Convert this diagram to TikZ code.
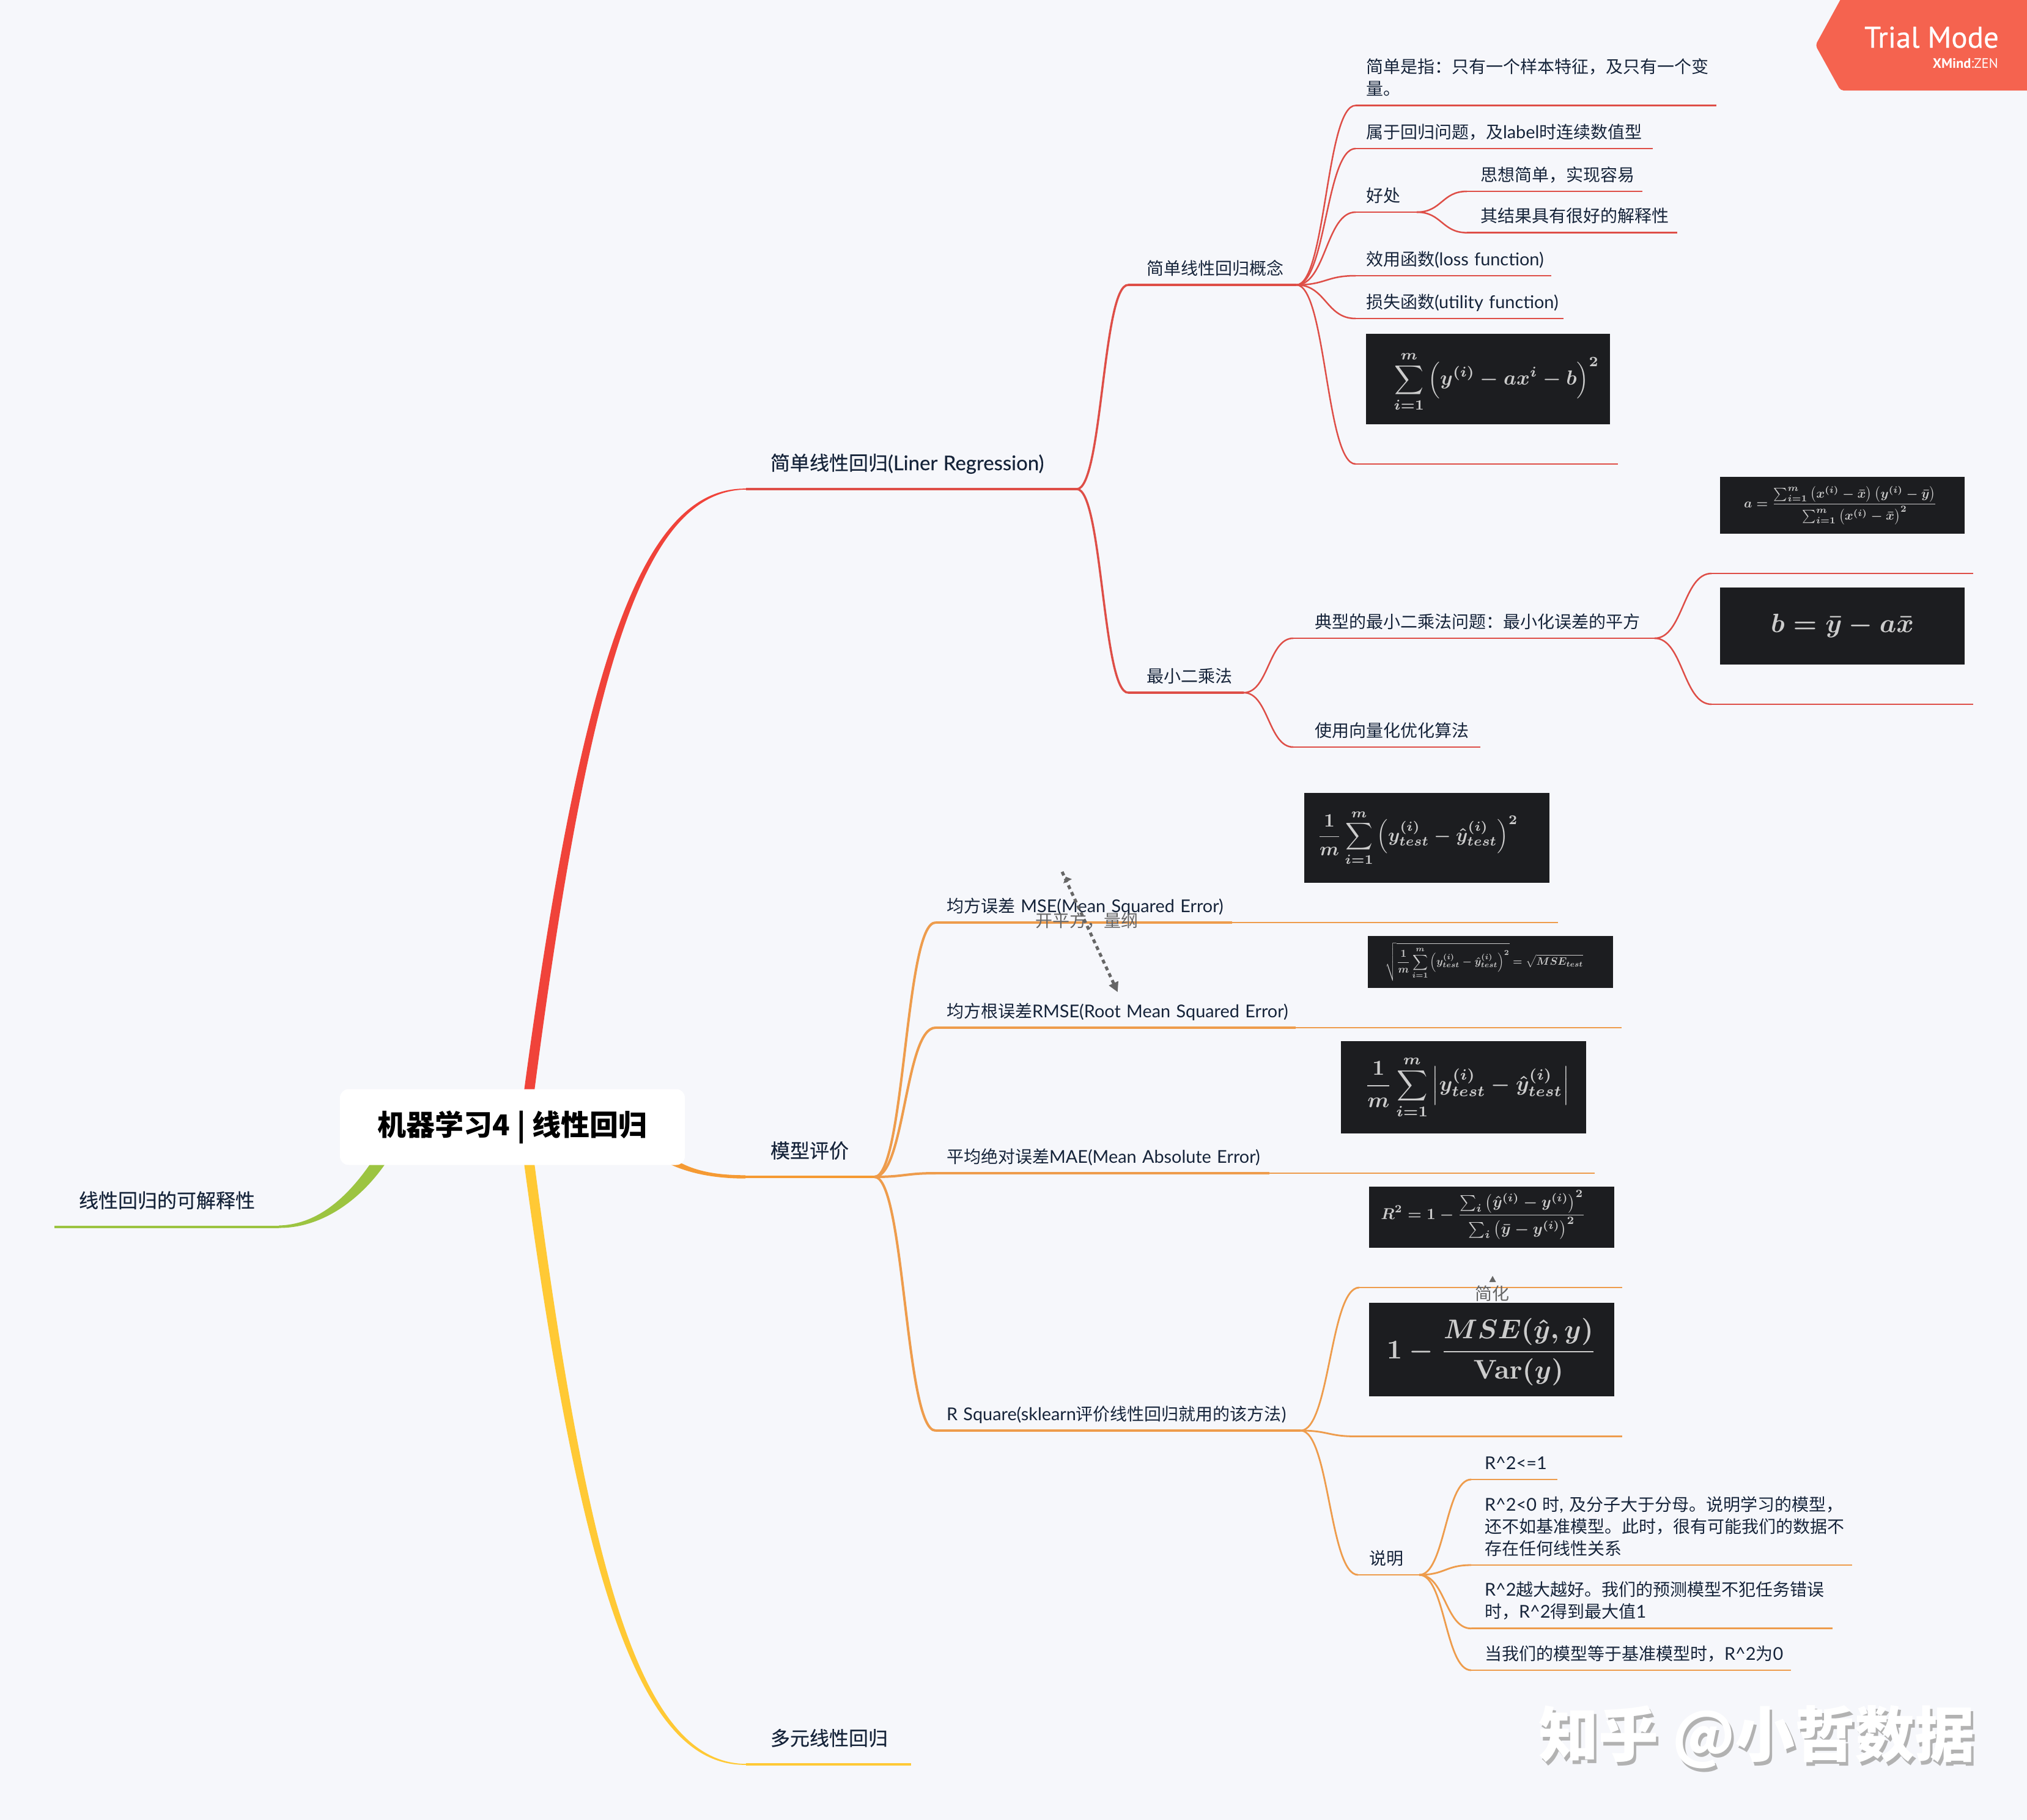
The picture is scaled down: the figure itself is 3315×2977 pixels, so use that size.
\documentclass[tikz,border=0pt]{standalone}
\usepackage[no-math]{fontspec}
\usepackage{amsmath}
\usepackage{graphicx}
\usetikzlibrary{calc,arrows.meta}
\setmainfont{Noto Sans CJK SC}
\newfontfamily\latfont[Scale=1.03]{Lato}
\newfontfamily\medfont[FakeBold=0.35]{Noto Sans CJK SC}
\newfontfamily\medlat[FakeBold=0.35,Scale=1.03]{Lato}
\newfontfamily\badgefont[FakeBold=0.5]{PT Sans}
\newfontfamily\badgebold{PT Sans}
\newcommand{\la}[1]{{\latfont #1}}
\newcommand{\bigsz}{\fontsize{32}{40}\selectfont}
\definecolor{paper}{HTML}{F6F7FB}
\definecolor{ink}{HTML}{16243A}
\definecolor{cRed}{HTML}{F0433A}
\definecolor{cRedL}{HTML}{DE4E47}
\definecolor{cOrg}{HTML}{F59A33}
\definecolor{cOrgL}{HTML}{EE9C4C}
\definecolor{cYel}{HTML}{FFC935}
\definecolor{cGrn}{HTML}{9CC441}
\definecolor{cGray}{HTML}{666666}
\definecolor{cDark}{HTML}{1C1D20}
\definecolor{cMath}{HTML}{CCCCCC}
\definecolor{cBadge}{HTML}{F5634F}
\pgfdeclarelayer{front}
\pgfsetlayers{main,front}
\tikzset{
  topicnode/.style={inner sep=0pt,outer sep=0pt,align=left,text=ink,font=\fontsize{28}{36}\selectfont},
  lnRed/.style={cRedL,line width=4pt},
  lnRedM/.style={cRedL,line width=3.5pt},
  lnRedS/.style={cRedL,line width=2.5pt},
  lnOrg/.style={cOrg,line width=4.5pt},
  lnOrgM/.style={cOrgL,line width=4pt},
  lnOrgS/.style={cOrgL,line width=2.8pt},
  lnYel/.style={cYel,line width=4pt},
  lnGrn/.style={cGrn,line width=4pt},
  formula/.style={fill=cDark,inner sep=0pt,outer sep=0pt,anchor=north west},
  mathtext/.style={inner sep=0pt,outer sep=0pt,text=cMath},
  notelabel/.style={text=cGray,inner sep=0pt,font=\fontsize{28}{34}\selectfont},
  relline/.style={cGray,line width=5pt,dash pattern=on 6.5pt off 5.7pt},
}
\newcommand{\tdepth}{17}
\newcommand{\topic}[7]{%
  \node[topicnode,text width={#4pt-#3pt},anchor=south west] (#1) at (#3,#5)
    {\leftskip=#6pt\relax #7\rule[-\tdepth pt]{0pt}{1pt}\par};
  \draw[#2] (#1.south west) -- (#1.south east);}
\newcommand{\conn}[3]{%
  \draw[#1] let \p1=(#2.south east), \p2=(#3.south west), \n1={0.5*(\x2-\x1)} in
    (\p1) .. controls (\x1+\n1,\y1) and (\x2-\n1,\y2) .. (\p2);}
% name, x0,y0,x1,y1, scale, dx, dy, math
\newcommand{\formbox}[9]{%
  \node[formula,minimum width={#4pt-#2pt},minimum height={#5pt-#3pt}] (#1) at (#2,#3) {};
  \node[mathtext] (#1-m) at ($(#1.center)+(#7,#8)$)
    {\scalebox{#6}{\color{cMath}\boldmath$\displaystyle #9$}};}
\begin{document}
\begin{tikzpicture}[x=1pt,y=-1pt]
\useasboundingbox (0,0) rectangle (3315,2977);
\fill[paper] (0,0) rectangle (3315,2977);
% central topic
\begin{pgfonlayer}{front}
\node[fill=white,rounded corners=14pt,minimum width=564pt,minimum height=124pt,inner sep=0pt,
  text=black,font=\fontsize{47}{56}\selectfont\bfseries] (center) at (838,1843.5) {机器学习4 | 线性回归};
\end{pgfonlayer}
% main branches
\renewcommand{\tdepth}{31}
\topic{rb}{lnRed}{1220}{1761}{800}{40}{\bigsz\medfont 简单线性回归{\medlat (Liner Regression)}}
\topic{ob}{lnOrg}{1219}{1430}{1925}{41}{\bigsz\medfont 模型评价}
\topic{yb}{lnYel}{1220}{1490}{2886}{40}{\bigsz\medfont 多元线性回归}
\topic{gb}{lnGrn}{89}{456}{2006.5}{40}{\bigsz\medfont 线性回归的可解释性}
\renewcommand{\tdepth}{17}
\fill[cRed] (853.5,1811) .. controls (950,1081) and (1049.5,797) .. ($(rb.south west)+(0,-0.8)$)
  -- ($(rb.south west)+(0,0.8)$) .. controls (1054.5,803) and (964,1081) .. (870.5,1811) -- cycle;
\fill[cYel] (853.5,1876) .. controls (950,2606) and (1049.5,2889) .. ($(yb.south west)+(0,0.8)$)
  -- ($(yb.south west)+(0,-0.8)$) .. controls (1054.5,2883) and (964,2606) .. (870.5,1876) -- cycle;
\fill[cGrn] (621,1880) .. controls (581,1945) and (528,2003) .. ($(gb.south east)+(0,-2)$)
  -- ($(gb.south east)+(0,2)$) .. controls (532,2009) and (599,1955) .. (639,1890) -- cycle;
\fill[cOrg] (1115,1903) .. controls (1145,1918) and (1180,1922.3) .. ($(ob.south west)+(0,-2.7)$)
  -- ($(ob.south west)+(0,2.7)$) .. controls (1170,1927.7) and (1130,1920) .. (1097,1905) -- cycle;
% red part
\topic{r1}{lnRedM}{1845}{2120}{466}{30}{简单线性回归概念}
\topic{r2}{lnRedM}{1845}{2034}{1133}{30}{最小二乘法}
\conn{lnRedM}{rb}{r1}
\conn{lnRedM}{rb}{r2}
\topic{a1}{lnRedS}{2217}{2807}{172.5}{17}{简单是指：只有一个样本特征，及只有一个变\\量。}
\topic{a2}{lnRedS}{2217}{2703}{243}{17}{属于回归问题，及\la{label}时连续数值型}
\topic{a3}{lnRedS}{2217}{2317}{347}{17}{好处}
\topic{a4}{lnRedS}{2217}{2537}{451}{17}{效用函数\la{(loss function)}}
\topic{a5}{lnRedS}{2217}{2557}{521}{17}{损失函数\la{(utility function)}}
\topic{a6}{lnRedS}{2217}{2646}{759}{17}{\phantom{x}}
\foreach \c in {a1,a2,a3,a4,a5,a6} {\conn{lnRedS}{r1}{\c}}
\topic{b1}{lnRedS}{2399}{2686}{313}{22}{思想简单，实现容易}
\topic{b2}{lnRedS}{2399}{2743}{380.6}{22}{其结果具有很好的解释性}
\conn{lnRedS}{a3}{b1}
\conn{lnRedS}{a3}{b2}
\formbox{f1}{2234}{546}{2633}{694}{3.33}{14}{4}{\sum_{i=1}^{m}\left(y^{(i)}-ax^{i}-b\right)^{2}}
\topic{c1}{lnRedS}{2115}{2706}{1044}{35}{典型的最小二乘法问题：最小化误差的平方}
\topic{c2}{lnRedS}{2115}{2421}{1222}{35}{使用向量化优化算法}
\conn{lnRedS}{r2}{c1}
\conn{lnRedS}{r2}{c2}
\topic{d1}{lnRedS}{2799}{3227}{938}{14}{\phantom{x}}
\topic{d2}{lnRedS}{2799}{3227}{1152}{14}{\phantom{x}}
\conn{lnRedS}{c1}{d1}
\conn{lnRedS}{c1}{d2}
\formbox{fa}{2813}{780}{3213}{873}{2.14}{-3}{0}{a=\frac{\sum_{i=1}^{m}\left(x^{(i)}-\bar{x}\right)\left(y^{(i)}-\bar{y}\right)}{\sum_{i=1}^{m}\left(x^{(i)}-\bar{x}\right)^{2}}}
\formbox{fb}{2813}{961}{3213}{1087}{4.35}{0}{0}{b=\bar{y}-a\bar{x}}
% orange part
\topic{m1}{lnOrgM}{1530}{2015}{1509}{18}{均方误差 \la{MSE(Mean Squared Error)}}
\topic{m2}{lnOrgM}{1530}{2119}{1681}{18}{均方根误差\la{RMSE(Root Mean Squared Error)}}
\topic{m3}{lnOrgM}{1530}{2076}{1919}{18}{平均绝对误差\la{MAE(Mean Absolute Error)}}
\topic{m4}{lnOrgM}{1530}{2127}{2340}{18}{\la{R Square(sklearn}评价线性回归就用的该方法\la{)}}
\foreach \c in {m1,m2,m3,m4} {\conn{lnOrgM}{ob}{\c}}
\coordinate (m1x) at (2548,1509);
\coordinate (m2x) at (2652,1681);
\coordinate (m3x) at (2608,1919);
\draw[lnOrgS] (m1.south east) -- (m1x);
\draw[lnOrgS] (m2.south east) -- (m2x);
\draw[lnOrgS] (m3.south east) -- (m3x);
\formbox{f2}{2133}{1297}{2534}{1444}{3.1}{-15}{0}{\frac{1}{m}\sum_{i=1}^{m}\left(y_{test}^{(i)}-\hat{y}_{test}^{(i)}\right)^{2}}
\formbox{f3}{2237}{1531}{2638}{1616}{1.74}{-10}{0}{\sqrt{\frac{1}{m}\sum_{i=1}^{m}\left(y_{test}^{(i)}-\hat{y}_{test}^{(i)}\right)^{2}}=\sqrt{MSE_{test}}}
\formbox{f4}{2193}{1703}{2594}{1854}{3.5}{6}{0}{\frac{1}{m}\sum_{i=1}^{m}\left|y_{test}^{(i)}-\hat{y}_{test}^{(i)}\right|}
\formbox{f5}{2239}{1941}{2640}{2041}{2.57}{-14}{-4}{R^{2}=1-\frac{\sum_{i}\left(\hat{y}^{(i)}-y^{(i)}\right)^{2}}{\sum_{i}\left(\bar{y}-y^{(i)}\right)^{2}}}
\formbox{f6}{2239}{2131}{2640}{2284}{4.43}{0}{4}{1-\frac{MSE(\hat{y},y)}{\mathrm{Var}(y)}}
\topic{e1}{lnOrgS}{2223}{2653}{2106}{16}{\phantom{x}}
\topic{e2}{lnOrgS}{2217}{2653}{2349.5}{22}{\phantom{x}}
\topic{e3}{lnOrgS}{2221}{2321}{2576}{18}{说明}
\foreach \c in {e1,e2,e3} {\conn{lnOrgS}{m4}{\c}}
\topic{g1}{lnOrgS}{2406}{2547}{2420}{22}{\la{R\textasciicircum 2<=1}}
\topic{g2}{lnOrgS}{2406}{3029}{2560}{22}{\la{R\textasciicircum 2<0 }时\la{, }及分子大于分母。说明学习的模型，\\还不如基准模型。此时，很有可能我们的数据不\\存在任何线性关系}
\topic{g3}{lnOrgS}{2406}{2997}{2663.7}{22}{\la{R\textasciicircum 2}越大越好。我们的预测模型不犯任务错误\\时，\la{R\textasciicircum 2}得到最大值\la{1}}
\topic{g4}{lnOrgS}{2406}{2929}{2732}{22}{当我们的模型等于基准模型时，\la{R\textasciicircum 2}为\la{0}}
\foreach \c in {g1,g2,g3,g4} {\conn{lnOrgS}{e3}{\c}}
% relationship notes
\coordinate (relA) at (1737,1426);
\coordinate (relB) at (1827,1621);
\draw[relline,-{Triangle[length=16pt,width=16pt]},shorten >=-2pt] (relA) -- (relB);
\fill[cGray] (1739,1445) -- (1753,1438) -- (1743,1434) -- cycle;
\node[notelabel] (relT) at (1777,1506) {开平方，量纲};
\node[notelabel] (simpT) at (2440,2116) {简化};
\coordinate (simpTip) at (2441,2087);
\fill[cGray] (simpTip) -- +(-5.5,10) -- +(5.5,10) -- cycle;
% badge
\fill[cBadge,rounded corners=5pt] (3015,-10) -- (2969,74) -- (3010,148) -- (3325,148) -- (3325,-10) -- cycle;
\node[text=white,inner sep=0pt,anchor=east,font=\fontsize{49}{54}\selectfont\badgefont] (trial) at (3269,61) {Trial Mode};
\node[text=white,inner sep=0pt,anchor=east,font=\fontsize{22.5}{26}\selectfont\badgebold] (zen) at (3268,104) {\textbf{XMind}:ZEN};
% watermark
\begin{pgfonlayer}{front}
\node[text=black!30,inner sep=0pt,font=\fontsize{98}{110}\selectfont\bfseries] (wmS) at (2877,2847) {知乎 @小哲数据};
\node[text=white,inner sep=0pt,font=\fontsize{98}{110}\selectfont\bfseries] (wm) at (2873,2841) {知乎 @小哲数据};
\end{pgfonlayer}
\end{tikzpicture}
\end{document}
